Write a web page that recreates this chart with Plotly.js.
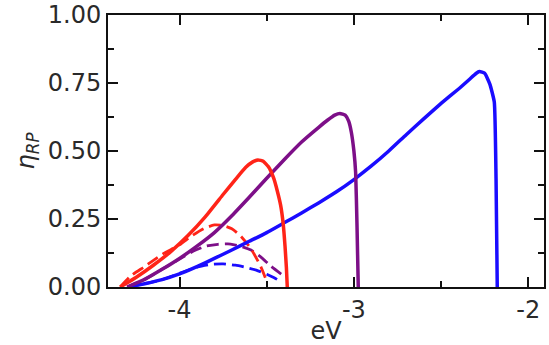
<!DOCTYPE html>
<html>
<head>
<meta charset="utf-8">
<script src="https://cdn.plot.ly/plotly-3.0.1.min.js"></script>
<style>html,body{margin:0;padding:0;background:#fff;}#chart{width:549px;height:345px;}</style>
</head>
<body>
<div id="chart"></div>
<script>
// Blue solid
const blueX = [-4.30, -4.20, -4.10, -4.00, -3.90, -3.80, -3.70, -3.60, -3.50, -3.40, -3.30, -3.20, -3.10, -3.00, -2.90, -2.80, -2.70, -2.60, -2.50, -2.40, -2.34, -2.30, -2.28, -2.25, -2.22, -2.195, -2.185, -2.178];
const blueY = [0, 0.012, 0.027, 0.048, 0.075, 0.105, 0.136, 0.168, 0.2, 0.236, 0.272, 0.31, 0.35, 0.395, 0.445, 0.5, 0.56, 0.618, 0.675, 0.728, 0.762, 0.785, 0.792, 0.786, 0.745, 0.68, 0.4, 0];
// Purple solid
const purpleX = [-4.30, -4.20, -4.10, -4.00, -3.90, -3.80, -3.70, -3.60, -3.50, -3.40, -3.30, -3.20, -3.15, -3.11, -3.08, -3.05, -3.03, -3.015, -3.00, -2.99, -2.982, -2.975];
const purpleY = [0, 0.028, 0.065, 0.105, 0.15, 0.2, 0.262, 0.33, 0.4, 0.468, 0.533, 0.588, 0.614, 0.632, 0.638, 0.632, 0.61, 0.57, 0.5, 0.42, 0.22, 0];
// Red solid
const redX = [-4.34, -4.25, -4.15, -4.05, -3.95, -3.85, -3.75, -3.68, -3.62, -3.58, -3.55, -3.52, -3.49, -3.46, -3.44, -3.42, -3.405, -3.395, -3.387, -3.382];
const redY = [0, 0.035, 0.08, 0.13, 0.19, 0.26, 0.34, 0.395, 0.44, 0.46, 0.467, 0.462, 0.442, 0.40, 0.355, 0.30, 0.23, 0.15, 0.07, 0];
// Red dashed
const redDashX = [-4.34, -4.28, -4.20, -4.10, -4.00, -3.93, -3.86, -3.80, -3.75, -3.70, -3.65, -3.59, -3.534, -3.496];
const redDashY = [0, 0.04, 0.075, 0.12, 0.155, 0.188, 0.215, 0.228, 0.226, 0.214, 0.188, 0.14, 0.075, 0.014];
// Purple dashed
const purpleDashX = [-4.30, -4.20, -4.10, -4.00, -3.92, -3.85, -3.78, -3.707, -3.65, -3.59, -3.53, -3.477, -3.41];
const purpleDashY = [0, 0.028, 0.065, 0.103, 0.132, 0.15, 0.157, 0.158, 0.15, 0.136, 0.108, 0.077, 0.044];
// Blue dashed
const blueDashX = [-4.30, -4.20, -4.10, -4.00, -3.90, -3.82, -3.75, -3.68, -3.62, -3.56, -3.50, -3.46, -3.42];
const blueDashY = [0, 0.012, 0.027, 0.05, 0.073, 0.083, 0.085, 0.08, 0.072, 0.062, 0.047, 0.035, 0.02];

const xTicks = [-4, -3, -2];
const xTickText = ['-4', '-3', '-2'];
const yTicks = [0, 0.25, 0.5, 0.75, 1.0];
const yTickText = ['0.00', '0.25', '0.50', '0.75', '1.00'];

const RED = '#ff2418', PURPLE = '#7d0f88', BLUE = '#1a0cff';
const dashStyle = '12px,6px';

const traces = [
  {x: blueDashX, y: blueDashY, mode: 'lines', line: {color: BLUE, width: 2.8, dash: dashStyle, shape: 'spline', smoothing: 0.6}},
  {x: purpleDashX, y: purpleDashY, mode: 'lines', line: {color: PURPLE, width: 2.8, dash: dashStyle, shape: 'spline', smoothing: 0.6}},
  {x: redDashX, y: redDashY, mode: 'lines', line: {color: RED, width: 2.8, dash: dashStyle, shape: 'spline', smoothing: 0.6}},
  {x: blueX, y: blueY, mode: 'lines', line: {color: BLUE, width: 3.5, shape: 'spline', smoothing: 0.4}},
  {x: purpleX, y: purpleY, mode: 'lines', line: {color: PURPLE, width: 3.5, shape: 'spline', smoothing: 0.4}},
  {x: redX, y: redY, mode: 'lines', line: {color: RED, width: 3.5, shape: 'spline', smoothing: 0.4}}
];

const font = {family: 'DejaVu Sans', size: 24, color: '#2a2a2a'};

const layout = {
  width: 549, height: 345,
  margin: {l: 108, r: 5, t: 15, b: 58},
  paper_bgcolor: '#fff', plot_bgcolor: '#fff',
  showlegend: false,
  font: font,
  xaxis: {
    range: [-4.41, -1.91],
    tickvals: xTicks, ticktext: xTickText,
    ticks: 'inside', ticklen: 10, tickwidth: 2, tickcolor: '#111',
    showline: true, linecolor: '#111', linewidth: 2, mirror: 'ticks',
    showgrid: false, zeroline: false,
    tickfont: font,
    minor: {dtick: 0.5, tick0: -4, ticks: 'inside', ticklen: 6, tickwidth: 2, tickcolor: '#111', showgrid: false},
    title: {text: 'eV', font: font, standoff: 6}
  },
  yaxis: {
    range: [0, 1],
    tickvals: yTicks, ticktext: yTickText,
    ticks: 'inside', ticklen: 10, tickwidth: 2, tickcolor: '#111',
    showline: true, linecolor: '#111', linewidth: 2, mirror: 'ticks',
    showgrid: false, zeroline: false,
    tickfont: font,
    minor: {dtick: 0.125, tick0: 0, ticks: 'inside', ticklen: 6, tickwidth: 2, tickcolor: '#111', showgrid: false},
    title: {text: '<i>η</i><sub><i>RP</i></sub>', font: font, standoff: 6}
  }
};

Plotly.newPlot('chart', traces, layout, {displayModeBar: false, staticPlot: true});
</script>
</body>
</html>
